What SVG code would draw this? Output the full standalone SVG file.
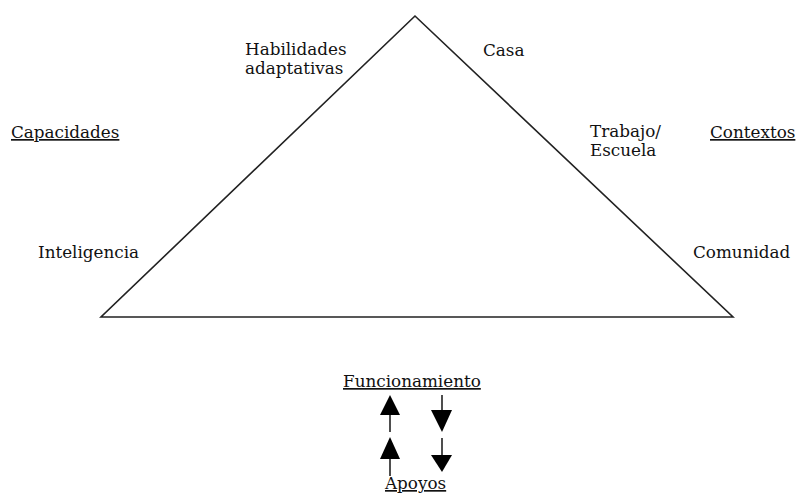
<svg xmlns="http://www.w3.org/2000/svg" width="796" height="493" viewBox="0 0 796 493">
<style>
text{font-family:"DejaVu Serif","Liberation Serif",serif;font-size:16.8px;fill:#111}
.u{text-decoration:underline}
.ln{stroke:#222;stroke-width:1.6;fill:none}
.ah{fill:#000}
</style>
<rect width="796" height="493" fill="#fff"/>
<g id="triangle"><path class="ln" d="M415,16 L101,317 L733,317 Z" stroke-linejoin="miter"/></g>
<g id="habilidades"><text x="245" y="55">Habilidades</text><text x="245" y="74">adaptativas</text></g>
<g id="casa"><text x="483" y="56">Casa</text></g>
<g id="capacidades"><text class="u" x="11" y="138">Capacidades</text></g>
<g id="trabajo"><text x="590" y="137">Trabajo/</text><text x="590" y="156">Escuela</text></g>
<g id="contextos"><text class="u" x="710" y="138">Contextos</text></g>
<g id="inteligencia"><text x="38" y="258">Inteligencia</text></g>
<g id="comunidad"><text x="693" y="258">Comunidad</text></g>
<g id="funcionamiento"><text class="u" x="343" y="387">Funcionamiento</text></g>
<g id="apoyos"><text class="u" x="385" y="489">Apoyos</text></g>
<g id="connectors">
<line class="ln" x1="390" y1="414" x2="390" y2="432"/>
<polygon class="ah" points="390,395 380,415 400,415"/>
<line class="ln" x1="390" y1="458" x2="390" y2="476"/>
<polygon class="ah" points="390,437 380,459 400,459"/>
<line class="ln" x1="442" y1="395" x2="442" y2="411"/>
<polygon class="ah" points="442,432 431,410 452,410"/>
<line class="ln" x1="442" y1="438" x2="442" y2="456"/>
<polygon class="ah" points="442,472 431,455 452,455"/>
</g>
</svg>
